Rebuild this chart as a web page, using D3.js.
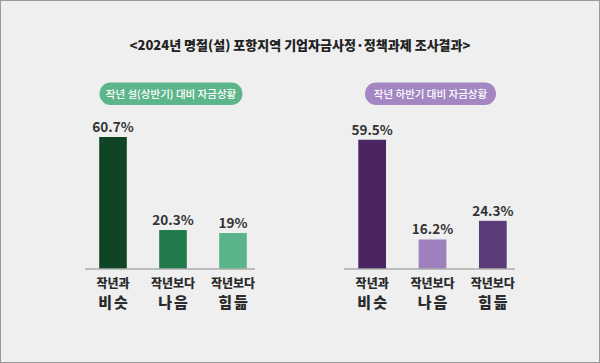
<!DOCTYPE html>
<html>
<head>
<meta charset="utf-8">
<script src="https://cdn.jsdelivr.net/npm/d3@7"></script>
<style>
  body { margin: 0; background: #efefef; }
  svg { display: block; font-family: "Noto Sans CJK KR", "Noto Sans", sans-serif; }
</style>
</head>
<body>
<div id="chart"></div>
<script>
let title = "<2024년 명절(설) 포항지역 기업자금사정·정책과제 조사결과>";
let categories = ["작년과|비슷", "작년보다|나음", "작년보다|힘듦"];
let leftTitle = "작년 설(상반기) 대비 자금상황";
let leftValues = [60.7, 20.3, 19];
let leftLabels = ["60.7%", "20.3%", "19%"];
let rightTitle = "작년 하반기 대비 자금상황";
let rightValues = [59.5, 16.2, 24.3];
let rightLabels = ["59.5%", "16.2%", "24.3%"];

let areaWidth = 600;
let areaHeight = 363;
let baseline = 268.5;

let svg = d3.select("#chart").append("svg")
  .attr("width", areaWidth)
  .attr("height", areaHeight);

svg.append("rect")
  .attr("x", 0.5).attr("y", 0.5)
  .attr("width", areaWidth - 1).attr("height", areaHeight - 1)
  .attr("fill", "#efefef")
  .attr("stroke", "#9a9a9a");

svg.append("text")
  .attr("x", 300).attr("y", 49.5)
  .attr("text-anchor", "middle")
  .attr("font-size", "13px")
  .attr("font-weight", "900")
  .attr("fill", "#222")
  .text(title);

// bar heights are not quite proportional in the original, so the scale starts a bit above 0
let yScale = d3.scaleLinear().domain([3.6, 60.7]).range([baseline, 137]);

function drawPanel(opts) {
  let x = d3.scaleBand()
    .domain(categories)
    .range(opts.range)
    .paddingInner(0.54)
    .paddingOuter(0.27);

  let g = svg.append("g");

  g.append("rect")
    .attr("x", opts.pill[0]).attr("y", 82.5)
    .attr("width", opts.pill[1] - opts.pill[0]).attr("height", 22.5)
    .attr("rx", 11.25)
    .attr("fill", opts.pillColor);

  g.append("text")
    .attr("x", (opts.pill[0] + opts.pill[1]) / 2).attr("y", 98)
    .attr("text-anchor", "middle")
    .attr("font-size", "10.5px")
    .attr("font-weight", "500")
    .attr("fill", "#fff")
    .text(opts.title);

  g.selectAll(".bar")
    .data(opts.values).enter().append("rect")
    .attr("x", (d, i) => x(categories[i]))
    .attr("y", d => yScale(d))
    .attr("width", x.bandwidth())
    .attr("height", d => baseline - yScale(d))
    .attr("fill", (d, i) => opts.colors[i]);

  g.selectAll(".val")
    .data(opts.values).enter().append("text")
    .attr("x", (d, i) => x(categories[i]) + x.bandwidth() / 2)
    .attr("y", d => yScale(d) - 5)
    .attr("text-anchor", "middle")
    .attr("font-size", "13.5px")
    .attr("font-weight", "bold")
    .attr("fill", "#333")
    .text((d, i) => opts.labels[i]);

  g.append("line")
    .attr("x1", opts.range[0] + 2).attr("x2", opts.range[1] - 8)
    .attr("y1", baseline + 0.5).attr("y2", baseline + 0.5)
    .attr("stroke", "#8a8a8a")
    .attr("stroke-width", 1);

  let cat = g.selectAll(".cat")
    .data(categories).enter().append("text")
    .attr("text-anchor", "middle")
    .attr("fill", "#2b2b2b")
    .attr("font-weight", "900");

  cat.append("tspan")
    .attr("x", d => x(d) + x.bandwidth() / 2)
    .attr("y", 287.5)
    .attr("font-size", "12px")
    .text(d => d.split("|")[0]);

  cat.append("tspan")
    .attr("x", d => x(d) + x.bandwidth() / 2 + 1)
    .attr("y", 308)
    .attr("font-size", "15px")
    .attr("letter-spacing", "2px")
    .text(d => d.split("|")[1]);
}

drawPanel({
  range: [83, 263],
  pill: [99.5, 242.5],
  pillColor: "#5db68b",
  title: leftTitle,
  values: leftValues,
  labels: leftLabels,
  colors: ["#0f4425", "#217a4b", "#5ab48a"]
});

drawPanel({
  range: [342, 523],
  pill: [365, 496],
  pillColor: "#a386c2",
  title: rightTitle,
  values: rightValues,
  labels: rightLabels,
  colors: ["#4a2560", "#9d80bc", "#5b3c78"]
});
</script>
</body>
</html>
